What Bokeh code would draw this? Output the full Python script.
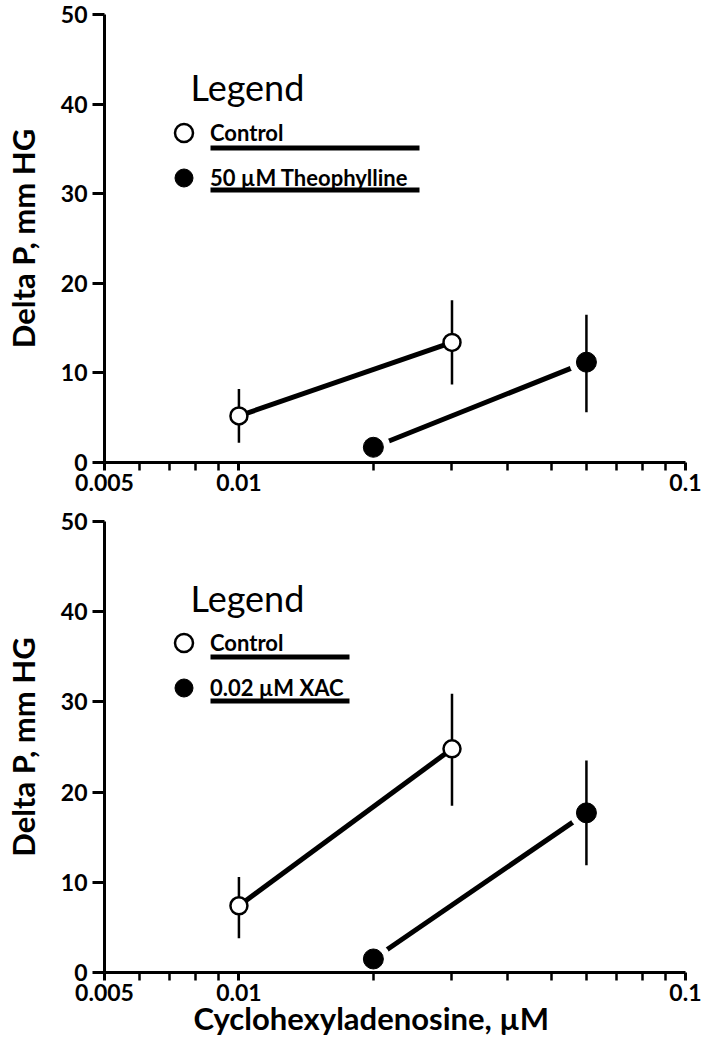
from bokeh.plotting import figure
from bokeh.models import (Range1d, FixedTicker, Legend, LegendItem, Label,
                          BoxAnnotation, Title, ColumnDataSource)
from bokeh.core.properties import value
from bokeh.layouts import column
from bokeh.embed import file_html
from bokeh.resources import INLINE

# ---------------- data ----------------
x_tick_values = [0.005, 0.01, 0.1]
x_tick_labels = ["0.005", "0.01", "0.1"]
x_minor_ticks = [0.006, 0.007, 0.008, 0.009, 0.02, 0.03, 0.04, 0.05,
                 0.06, 0.07, 0.08, 0.09]
y_tick_values = [0, 10, 20, 30, 40, 50]

control_conc = [0.01, 0.03]
antagonist_conc = [0.02, 0.06]

top_control_mean = [5.2, 13.4]
top_control_low = [2.2, 8.7]
top_control_high = [8.2, 18.1]
top_theo_mean = [1.7, 11.2]
top_theo_low = [1.7, 5.6]
top_theo_high = [1.7, 16.5]

bot_control_mean = [7.4, 24.8]
bot_control_low = [3.8, 18.5]
bot_control_high = [10.6, 30.9]
bot_xac_mean = [1.5, 17.7]
bot_xac_low = [1.5, 11.9]
bot_xac_high = [1.5, 23.5]

top_legend_labels = ["Control", "50 \u00b5M Theophylline"]
bot_legend_labels = ["Control", "0.02 \u00b5M XAC"]
legend_title = "Legend"
y_title = "Delta P, mm HG"
x_title = "Cyclohexyladenosine, \u00b5M"

FONT = "Lato"
FRAME_W = 581


def make_panel(c_mean, c_low, c_high, t_mean, t_low, t_high, labels,
               underline_right, frame_h, min_top, min_bottom,
               legend_vy, title_y, underline_bottoms):
    p = figure(x_axis_type="log", x_range=Range1d(0.005, 0.1),
               y_range=Range1d(0, 50), frame_width=FRAME_W, frame_height=frame_h,
               min_border_left=100, min_border_right=16,
               min_border_top=min_top, min_border_bottom=min_bottom,
               output_backend="svg", toolbar_location=None)
    p.grid.visible = False
    p.outline_line_color = None
    p.background_fill_color = "white"
    p.border_fill_color = "white"

    xa = p.xaxis[0]
    ya = p.yaxis[0]
    for ax in (xa, ya):
        ax.axis_line_width = 3
        ax.axis_line_color = "black"
        ax.major_tick_line_width = 3
        ax.minor_tick_line_width = 2.5
        ax.major_tick_in = 0
        ax.minor_tick_in = 0
        ax.major_label_text_font = FONT
        ax.major_label_text_font_style = "bold"
        ax.major_label_text_font_size = "23px"
        ax.major_label_text_color = "black"
    xa.ticker = FixedTicker(ticks=x_tick_values, minor_ticks=x_minor_ticks)
    xa.major_label_overrides = dict(zip(x_tick_values, x_tick_labels))
    xa.major_tick_out = 8
    xa.minor_tick_out = 8
    xa.major_label_standoff = 3

    ya.ticker = FixedTicker(ticks=y_tick_values, minor_ticks=[])
    ya.major_tick_out = 12
    ya.major_label_standoff = 5
    ya.axis_label = y_title
    ya.axis_label_text_font = FONT
    ya.axis_label_text_font_style = "bold"
    ya.axis_label_text_font_size = "31px"
    ya.axis_label_text_color = "black"
    ya.axis_label_standoff = 16

    src_c = ColumnDataSource(dict(x=control_conc, y=c_mean, lo=c_low, hi=c_high))
    src_t = ColumnDataSource(dict(x=antagonist_conc, y=t_mean, lo=t_low, hi=t_high))

    p.line("x", "y", source=src_c, line_width=5, line_color="black")
    p.line("x", "y", source=src_t, line_width=5, line_color="black")
    # white halo around filled markers
    p.scatter("x", "y", source=src_t, size=34, fill_color="white", line_color=None)
    p.segment("x", "lo", "x", "hi", source=src_c, line_width=2.5, line_color="black")
    p.segment("x", "lo", "x", "hi", source=src_t, line_width=2.5, line_color="black")
    rc = p.scatter("x", "y", source=src_c, size=17, fill_color="white",
                   line_color="black", line_width=2.5)
    rt = p.scatter("x", "y", source=src_t, size=20, fill_color="black",
                   line_color="black", line_width=1)

    leg = Legend(items=[LegendItem(label=value(labels[0]), renderers=[rc]),
                        LegendItem(label=value(labels[1]), renderers=[rt])],
                 location=(57, legend_vy), orientation="vertical",
                 glyph_width=45, glyph_height=45, spacing=0, padding=0, margin=0,
                 label_standoff=4, label_height=20,
                 label_text_font=FONT, label_text_font_style="bold",
                 label_text_font_size="22px", label_text_color="black",
                 border_line_color=None, background_fill_alpha=0)
    p.add_layout(leg)

    p.add_layout(Label(x=86, y=title_y, x_units="screen", y_units="screen",
                       text=legend_title, text_font=FONT, text_font_size="36px",
                       text_baseline="alphabetic", text_color="black"))
    for b in underline_bottoms:
        p.add_layout(BoxAnnotation(left=106, right=underline_right, bottom=b, top=b + 5,
                                   left_units="screen", right_units="screen",
                                   bottom_units="screen", top_units="screen",
                                   fill_color="black", fill_alpha=1,
                                   line_color=None))
    return p


top = make_panel(top_control_mean, top_control_low, top_control_high,
                 top_theo_mean, top_theo_low, top_theo_high,
                 top_legend_labels, 315, 448, 14, 44,
                 262, 376, (312, 270))
bot = make_panel(bot_control_mean, bot_control_low, bot_control_high,
                 bot_xac_mean, bot_xac_low, bot_xac_high,
                 bot_legend_labels, 245, 451, 15, 70,
                 262, 375, (313, 269))
bot.add_layout(Title(text=x_title, align="left", offset=89, standoff=-13,
                     text_font=FONT, text_font_size="31px",
                     text_font_style="bold", text_color="black"), "below")

layout = column(top, bot, spacing=0)
open("out.html", "w").write(file_html(layout, INLINE))
